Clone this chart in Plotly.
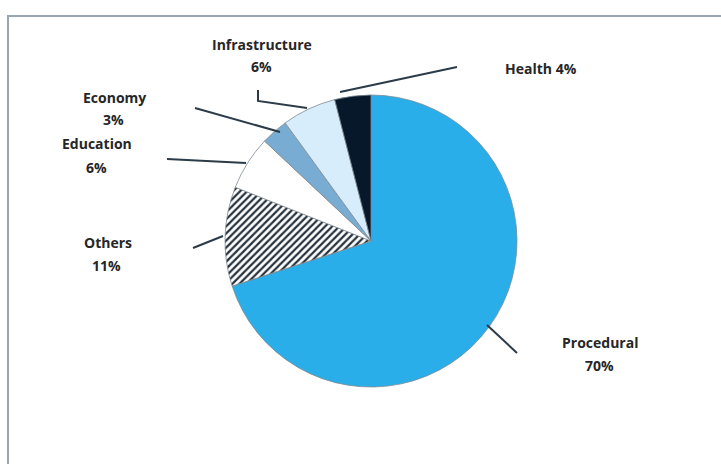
import plotly.graph_objects as go

W, H = 721, 464

# slices, clockwise from 12 o'clock
categories = ["Procedural", "Others", "Education", "Economy", "Infrastructure", "Health"]
shares = [70, 11, 6, 3, 6, 4]
slice_colors = ["#29aee9", "#ffffff", "#ffffff", "#79acd3", "#d8edfb", "#06182a"]
slice_patterns = ["", "/", "", "", "", ""]

# label text as printed on the chart (name line, percent line)
label_lines = [
    ("Procedural", "70%"),
    ("Others", "11%"),
    ("Education", "6%"),
    ("Economy", "3%"),
    ("Infrastructure", "6%"),
    ("Health 4%", None),
]


def px(x):
    return x / W


def py(y):
    return 1 - y / H


fig = go.Figure()
fig.add_trace(go.Pie(
    labels=categories, values=shares, sort=False, direction="clockwise", rotation=0,
    marker=dict(colors=slice_colors, line=dict(color="#7f8a92", width=0.8),
                pattern=dict(shape=slice_patterns, fgcolor="#25323d", bgcolor="#ffffff",
                             size=5, solidity=0.45)),
    textinfo="none", hoverinfo="skip", showlegend=False,
    domain=dict(x=[px(225), px(517)], y=[py(387), py(95)]),
))

# label anchor points in pixels (centre of the name line)
label_pos = {
    "Procedural": (600, 342),
    "Others": (108, 242),
    "Education": (97, 144),
    "Economy": (114, 97),
    "Infrastructure": (262, 44),
    "Health": (541, 68),
}
font = dict(family="Open Sans", size=14, color="#262626")
annotations = []
for cat, (name, pct) in zip(categories, label_lines):
    x, y = label_pos[cat]
    annotations.append(dict(text=f"<b>{name}</b>", x=px(x), y=py(y), xref="paper", yref="paper",
                            xanchor="center", yanchor="middle", showarrow=False, font=font))
    if pct:
        annotations.append(dict(text=f"<b>{pct}</b>", x=px(x - 1), y=py(y + 23), xref="paper",
                                yref="paper", xanchor="center", yanchor="middle",
                                showarrow=False, font=font))

# leader lines (pixel polylines)
leaders = [
    [(487, 325), (517, 353)],
    [(223, 236), (193, 248)],
    [(246, 163), (167, 159)],
    [(280, 132), (195, 108)],
    [(307, 108), (258, 101), (258, 90)],
    [(340, 92), (457, 67)],
]
shapes = []
for pts in leaders:
    path = "M " + " L ".join(f"{px(a):.5f},{py(b):.5f}" for a, b in pts)
    shapes.append(dict(type="path", path=path, xref="paper", yref="paper",
                       line=dict(color="#2b3b48", width=2)))

# frame (left and top edges only are visible)
shapes.append(dict(type="path", xref="paper", yref="paper",
                   path=f"M {px(8)},0 L {px(8)},{py(16)} L 1,{py(16)}",
                   line=dict(color="#9aa6ae", width=2)))

fig.update_layout(
    width=W, height=H, margin=dict(l=0, r=0, t=0, b=0),
    paper_bgcolor="#ffffff", plot_bgcolor="#ffffff",
    annotations=annotations, shapes=shapes,
)

fig.write_html("out.html", config={"displayModeBar": False},
               post_script="document.body.style.margin='0';")
